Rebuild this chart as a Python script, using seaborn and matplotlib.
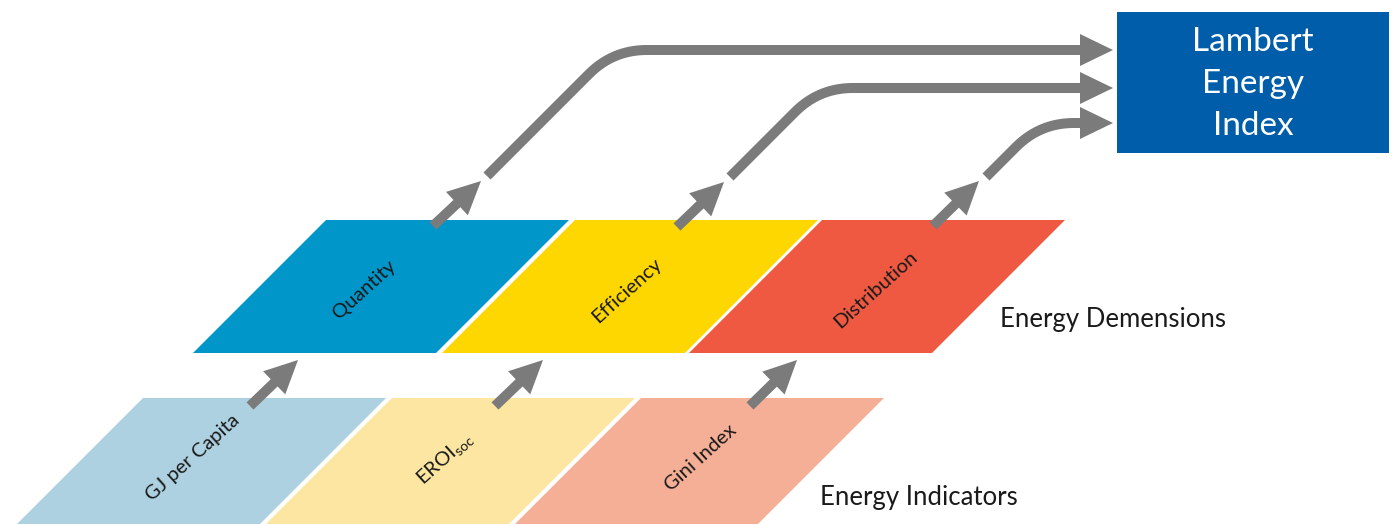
import numpy as np
import matplotlib
matplotlib.use("Agg")
import matplotlib.pyplot as plt
from matplotlib.patches import Polygon, Rectangle
import seaborn as sns

# ---- content -------------------------------------------------------------
title = "Figure 1. Components of the Lambert Energy Index"
dimension_labels = ["Quantity", "Efficiency", "Distribution"]
dimension_colors = ["#0096C9", "#FFD700", "#EF5941"]
indicator_labels = ["GJ per Capita", r"EROI$_{\mathrm{soc}}$", "Gini Index"]
indicator_colors = ["#AED1E1", "#FDE6A1", "#F5AF97"]
index_lines = ["Lambert", "Energy", "Index"]
row_titles = ["Energy Demensions", "Energy Indicators"]

# ---- layout (pixel space) ------------------------------------------------
dim_left = [326, 575, 822]
dim_top, dim_bottom = 220, 353
ind_left = [143, 392, 641]
ind_top, ind_bottom = 398, 534
cell_w = 243

dim_label_xy = [(364, 290), (627, 291), (876, 290)]
ind_label_xy = [(193, 458), (445, 459), (701, 458)]

small_up_start = [(433, 226), (677, 227), (933, 226)]
small_up_tip = [(481, 181), (724, 182), (979, 181)]
small_lo_start = [(250, 406), (495, 406), (750, 406)]
small_lo_tip = [(298, 360), (543, 360), (797, 360)]

path_start = [(487, 176), (730, 177), (986, 177)]
path_level = [50, 88, 123]
path_tip_x = 1113

box = (1117, 12, 1389, 153)
box_color = "#005DAA"
gray = "#7B7B7B"

sns.set_theme(style="white")
plt.rcParams["font.family"] = ["Lato", "DejaVu Sans"]
plt.rcParams["mathtext.fontset"] = "custom"
plt.rcParams["mathtext.rm"] = "Lato"

fig = plt.figure(figsize=(13.95, 5.24), dpi=100)
ax = fig.add_axes([0, 0, 1, 1])
ax.set_xlim(0, 1395)
ax.set_ylim(524, 0)
ax.axis("off")

LW = 10 * 72 / 100  # 10 px


def parallelogram(xl, top, bottom, w, color):
    h = bottom - top
    pts = [(xl, top), (xl + w, top), (xl + w - h, bottom), (xl - h, bottom)]
    ax.add_patch(Polygon(pts, closed=True, facecolor=color, edgecolor="none", zorder=1))


def head(tip, d, length=33, width=32):
    d = np.asarray(d, float)
    d = d / np.linalg.norm(d)
    n = np.array([-d[1], d[0]])
    tip = np.asarray(tip, float)
    base = tip - d * length
    pts = [tip, base + n * width / 2, base - n * width / 2]
    ax.add_patch(Polygon(pts, closed=True, facecolor=gray, edgecolor="none", zorder=4))
    return base


def small_arrow(s, t):
    s = np.asarray(s, float)
    t = np.asarray(t, float)
    base = head(t, t - s)
    ax.plot([s[0], base[0] + (t - s)[0] * 0.02], [s[1], base[1] + (t - s)[1] * 0.02],
            color=gray, lw=LW, solid_capstyle="butt", zorder=3)


# parallelograms
for xl, c in zip(dim_left, dimension_colors):
    parallelogram(xl, dim_top, dim_bottom, cell_w, c)
for xl, c in zip(ind_left, indicator_colors):
    parallelogram(xl, ind_top, ind_bottom, cell_w, c)

# labels in cells
for (cx, cy), lab in zip(dim_label_xy, dimension_labels):
    ax.text(cx, cy, lab, rotation=42, rotation_mode="anchor",
            ha="center", va="center", fontsize=14.5, color="#1a1a1a", zorder=5)
for (cx, cy), lab in zip(ind_label_xy, indicator_labels):
    ax.text(cx, cy, lab, rotation=42, rotation_mode="anchor",
            ha="center", va="center", fontsize=14.5, color="#1a1a1a", zorder=5)

# small arrows
for s, t in zip(small_up_start, small_up_tip):
    small_arrow(s, t)
for s, t in zip(small_lo_start, small_lo_tip):
    small_arrow(s, t)

# long routed arrows to the index box
r = 34
for (x0, y0), yl in zip(path_start, path_level):
    cx = x0 + (y0 - yl)
    c = np.array([cx, yl], float)
    d = np.array([1, -1]) / np.sqrt(2)
    p0 = c - d * r
    p2 = c + np.array([r, 0])
    tt = np.linspace(0, 1, 30)[:, None]
    curve = (1 - tt) ** 2 * p0 + 2 * (1 - tt) * tt * c + tt ** 2 * p2
    base = head((path_tip_x, yl), (1, 0))
    xs = [x0] + list(curve[:, 0]) + [base[0] + 1]
    ys = [y0] + list(curve[:, 1]) + [yl]
    ax.plot(xs, ys, color=gray, lw=LW, solid_capstyle="butt",
            solid_joinstyle="round", zorder=3)

# index box
ax.add_patch(Rectangle((box[0], box[1]), box[2] - box[0], box[3] - box[1],
                       facecolor=box_color, edgecolor="none", zorder=2))
bx = (box[0] + box[2]) / 2
for yy, t in zip([42, 84, 126], index_lines):
    ax.text(bx, yy, t, ha="center", va="center", fontsize=24, color="white", zorder=5)

# row titles
ax.text(1000, 320, row_titles[0], ha="left", va="center", fontsize=18.5, color="#1a1a1a")
ax.text(820, 497, row_titles[1], ha="left", va="center", fontsize=18.5, color="#1a1a1a")

# clipped figure caption at the very top (only its lowest strokes are visible)
ax.text(0, -6.5, title, ha="left", va="baseline", fontsize=24, color="#111111",
        family=["Liberation Serif", "DejaVu Serif"], clip_on=False)

sns.despine(left=True, bottom=True)
fig.savefig("out.png", dpi=100)
